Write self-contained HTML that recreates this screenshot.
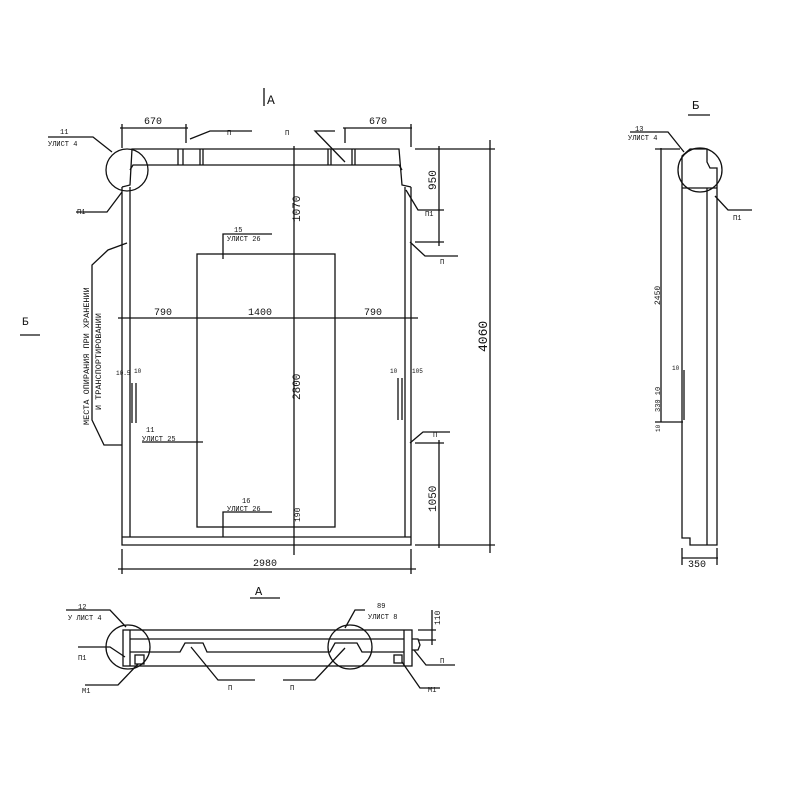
<!DOCTYPE html>
<html><head><meta charset="utf-8"><style>
html,body{margin:0;padding:0;background:#fff;}
svg{display:block}
text{font-family:"Liberation Mono","DejaVu Sans Mono",monospace;fill:#111;}
</style></head><body>
<svg width="800" height="800" viewBox="0 0 800 800" xmlns="http://www.w3.org/2000/svg">
<g stroke="#111" stroke-width="1.3" fill="none">
<!-- main panel -->
<path d="M122,187 L122,545 L411,545 L411,187"/>
<line x1="122" y1="537" x2="411" y2="537"/>
<line x1="130" y1="187" x2="130" y2="537"/>
<line x1="405" y1="187" x2="405" y2="537"/>
<path d="M122,187 L130,185 L132,149 L399,149 L402,185 L411,187"/>
<path d="M130,170 L133,165 L140,165 L399,165 L402,170"/>
<line x1="178" y1="149" x2="178" y2="165"/><line x1="183" y1="149" x2="183" y2="165"/>
<line x1="200" y1="149" x2="200" y2="165"/><line x1="203" y1="149" x2="203" y2="165"/>
<line x1="328" y1="149" x2="328" y2="165"/><line x1="331" y1="149" x2="331" y2="165"/>
<line x1="352" y1="149" x2="352" y2="165"/><line x1="355" y1="149" x2="355" y2="165"/>
<circle cx="127" cy="170" r="21"/>
<rect x="197" y="254" width="138" height="273"/>
<line x1="294" y1="146" x2="294" y2="555"/>
<line x1="118" y1="318" x2="418" y2="318"/>
<line x1="118" y1="569" x2="416" y2="569"/>
<line x1="122" y1="549" x2="122" y2="574"/><line x1="411" y1="549" x2="411" y2="574"/>
<line x1="120" y1="128" x2="188" y2="128"/><line x1="122" y1="124" x2="122" y2="148"/><line x1="186" y1="124" x2="186" y2="143"/>
<line x1="343" y1="128" x2="412" y2="128"/><line x1="345" y1="128" x2="345" y2="143"/><line x1="411" y1="124" x2="411" y2="147"/>
<line x1="490" y1="140" x2="490" y2="553"/>
<line x1="415" y1="149" x2="495" y2="149"/><line x1="415" y1="545" x2="495" y2="545"/>
<line x1="439" y1="146" x2="439" y2="246"/>
<line x1="415" y1="242" x2="444" y2="242"/>
<line x1="439" y1="440" x2="439" y2="548"/>
<line x1="415" y1="443" x2="444" y2="443"/>
<path d="M48,137 L93,137 L112,152"/>
<path d="M76,212 L107,212 L122,192"/>
<path d="M190,139 L210,131 L252,131"/>
<path d="M335,131 L315,131 L345,162"/>
<path d="M406,190 L418,210 L444,210"/>
<path d="M410,242 L425,256 L458,256"/>
<path d="M410,443 L423,432 L450,432"/>
<path d="M127,243 L108,250 L92,265 L92,420 L104,445 L122,445"/>
<path d="M223,259 L223,234 L272,234"/><path d="M142,442 L203,442"/>
<path d="M223,537 L223,512 L272,512"/>
<line x1="132" y1="383" x2="132" y2="423"/><line x1="136" y1="383" x2="136" y2="423"/>
<line x1="398" y1="378" x2="398" y2="420"/><line x1="402" y1="378" x2="402" y2="420"/>
<line x1="20" y1="335" x2="40" y2="335"/>
<line x1="264" y1="88" x2="264" y2="106"/>
<!-- view A -->
<rect x="123" y="630" width="289" height="36"/>
<line x1="130" y1="630" x2="130" y2="666"/><line x1="404" y1="630" x2="404" y2="666"/>
<line x1="130" y1="639" x2="404" y2="639"/>
<path d="M130,652 L180,652 L185,643 L203,643 L207,652 L330,652 L335,643 L357,643 L362,652 L404,652"/>
<rect x="135" y="655" width="9" height="9"/><rect x="394" y="655" width="8" height="8"/>
<circle cx="128" cy="647" r="22"/><circle cx="350" cy="647" r="22"/>
<path d="M412,639 L418,639 L420,645 L418,650 L412,650"/>
<line x1="418" y1="630" x2="436" y2="630"/><line x1="418" y1="640" x2="436" y2="640"/><line x1="432" y1="610" x2="432" y2="645"/>
<path d="M66,610 L110,610 L126,627"/>
<path d="M78,647 L110,647 L125,657"/>
<path d="M85,685 L118,685 L138,664"/>
<path d="M191,647 L218,680 L255,680"/>
<path d="M283,680 L315,680 L345,648"/>
<path d="M365,610 L355,610 L345,628"/>
<path d="M414,650 L426,665 L455,665"/>
<path d="M402,662 L420,688 L440,688"/>
<line x1="250" y1="598" x2="280" y2="598"/>
<!-- view Б -->
<path d="M682,156 L690,149 L707,149 L707,162 L710,168 L717,168 L717,545 L690,545 L690,538 L682,538 Z"/>
<line x1="682" y1="188" x2="717" y2="188"/>
<line x1="707" y1="188" x2="707" y2="545"/>
<circle cx="700" cy="170" r="22"/>
<line x1="661" y1="148" x2="661" y2="422"/>
<line x1="655" y1="149" x2="680" y2="149"/><line x1="655" y1="422" x2="683" y2="422"/>
<line x1="684" y1="370" x2="684" y2="420"/>
<line x1="682" y1="558" x2="718" y2="558"/><line x1="682" y1="548" x2="682" y2="565"/><line x1="717" y1="548" x2="717" y2="565"/>
<path d="M630,132 L668,132 L684,152"/>
<path d="M715,196 L728,210 L752,210"/>
<line x1="688" y1="115" x2="710" y2="115"/>
</g>
<g font-size="10">
<text x="144" y="124">670</text>
<text x="369" y="124">670</text>
<text x="154" y="315">790</text>
<text x="248" y="315">1400</text>
<text x="364" y="315">790</text>
<text x="253" y="566">2980</text>
<text x="255" y="595" font-size="12">A</text>
<text x="267" y="104" font-size="13">A</text>
<text x="22" y="325" font-size="11">Б</text>
<text x="692" y="109" font-size="12">Б</text>
<text x="688" y="567">350</text>
</g>
<g font-size="7">
<text x="60" y="134">11</text><text x="48" y="146">УЛИСТ 4</text>
<text x="77" y="214">П1</text>
<text x="227" y="135">П</text><text x="285" y="135">П</text>
<text x="425" y="216">П1</text><text x="440" y="264">П</text><text x="433" y="437">П</text>
<text x="234" y="232">15</text><text x="227" y="241">УЛИСТ 26</text>
<text x="146" y="432">11</text><text x="142" y="441">УЛИСТ 25</text>
<text x="242" y="503">16</text><text x="227" y="511">УЛИСТ 26</text>
<text x="116" y="375" font-size="6">10.5</text><text x="134" y="373" font-size="6">10</text>
<text x="390" y="373" font-size="6">10</text><text x="412" y="373" font-size="6">105</text>
<text x="78" y="609">12</text><text x="68" y="620">У ЛИСТ 4</text>
<text x="78" y="660">П1</text><text x="82" y="693">М1</text>
<text x="228" y="690">П</text><text x="290" y="690">П</text>
<text x="377" y="608">89</text><text x="368" y="619">УЛИСТ 8</text>
<text x="440" y="663">П</text><text x="428" y="692">М1</text>
<text x="635" y="131">13</text><text x="628" y="140">УЛИСТ 4</text>
<text x="733" y="220">П1</text>
<text x="672" y="370" font-size="6">10</text>
</g>
<g font-size="11">
<text transform="translate(300,222) rotate(-90)">1070</text>
<text transform="translate(300,400) rotate(-90)">2800</text>
<text transform="translate(300,522) rotate(-90)" font-size="8">190</text>
<text transform="translate(436,190) rotate(-90)">950</text>
<text transform="translate(436,512) rotate(-90)">1050</text>
<text transform="translate(487,352) rotate(-90)" font-size="13">4060</text>
<text transform="translate(440,625) rotate(-90)" font-size="8">110</text>
<text transform="translate(660,305) rotate(-90)" font-size="8">2450</text>
<text transform="translate(660,412) rotate(-90)" font-size="7">330 10</text>
<text transform="translate(660,432) rotate(-90)" font-size="6">10</text>
<text transform="translate(89,425) rotate(-90)" font-size="8.5">МЕСТА ОПИРАНИЯ ПРИ ХРАНЕНИИ</text>
<text transform="translate(101,410) rotate(-90)" font-size="8.5">И ТРАНСПОРТИРОВАНИИ</text>
</g>
</svg>
</body></html>
